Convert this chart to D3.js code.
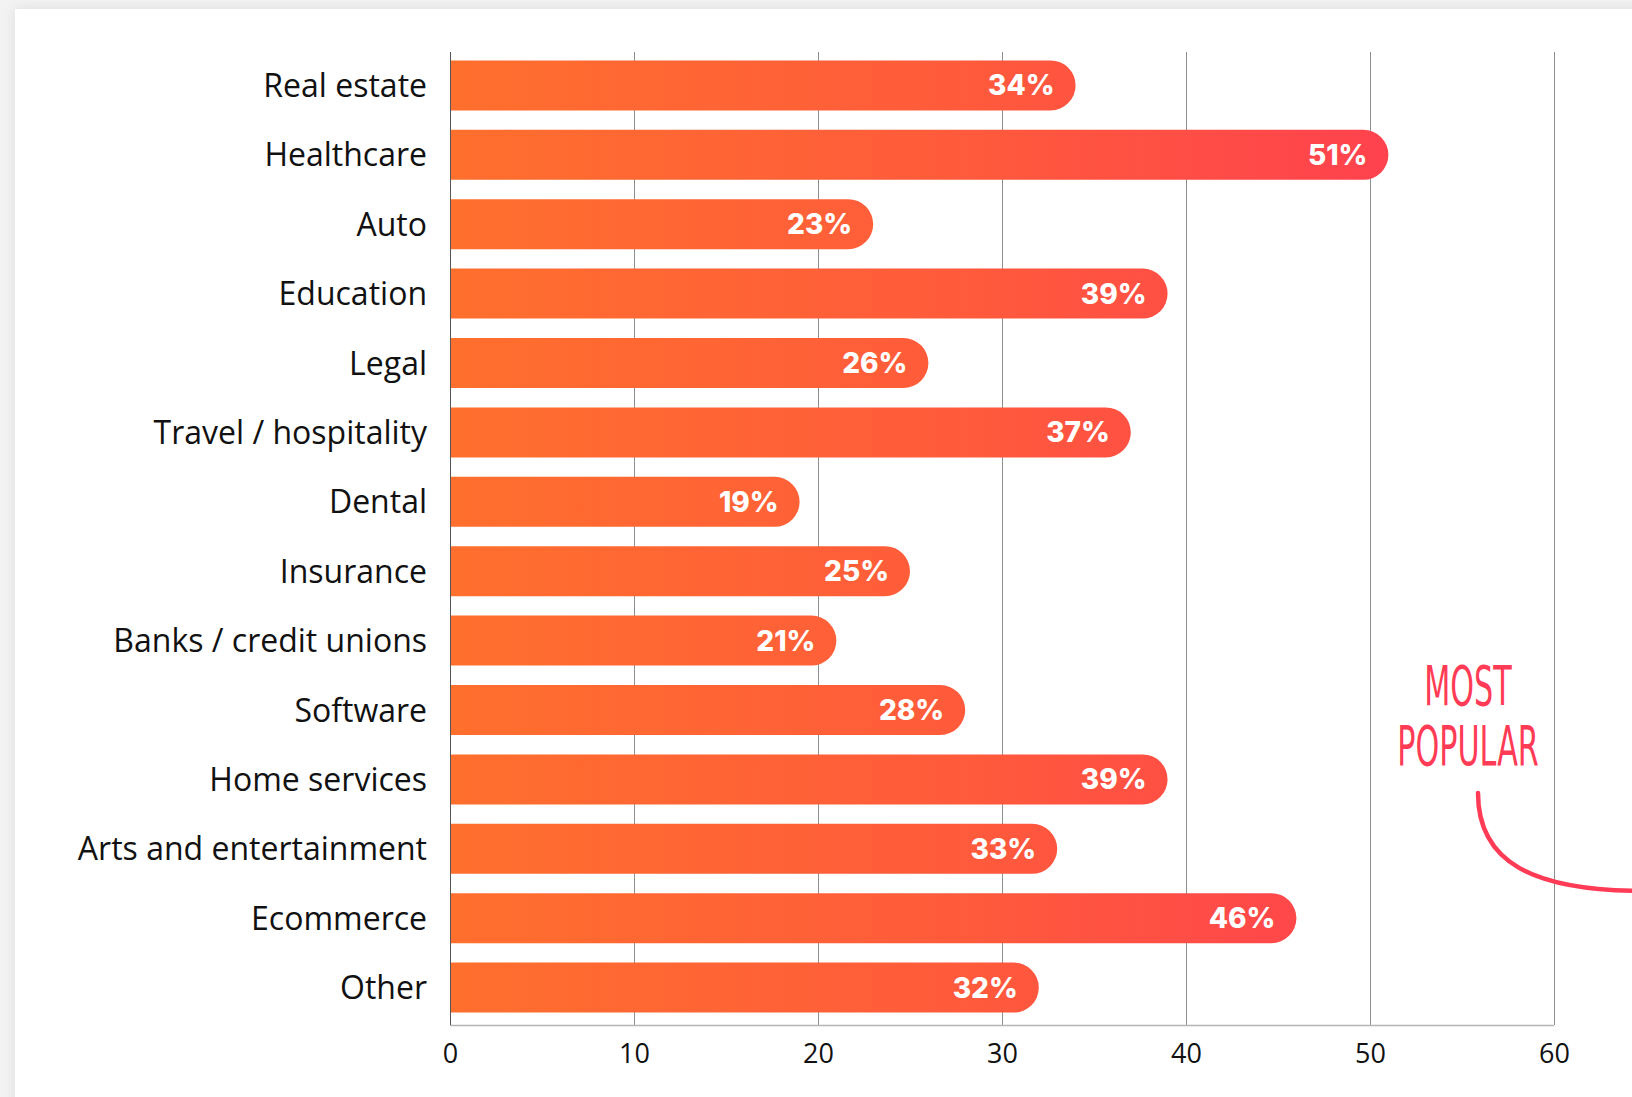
<!DOCTYPE html>
<html>
<head>
<meta charset="utf-8">
<script src="https://cdn.jsdelivr.net/npm/d3@7"></script>
<style>
  html, body { margin: 0; padding: 0; background: #f3f3f3; overflow: hidden; }
  svg { display: block; }
</style>
</head>
<body>
<svg id="chart" width="1632" height="1097"></svg>
<script>
// Share of respondents by industry (%)
const categories = [
  "Real estate", "Healthcare", "Auto", "Education", "Legal",
  "Travel / hospitality", "Dental", "Insurance", "Banks / credit unions",
  "Software", "Home services", "Arts and entertainment", "Ecommerce", "Other"
];
const values = [34, 51, 23, 39, 26, 37, 19, 25, 21, 28, 39, 33, 46, 32];
const tickValues = [0, 10, 20, 30, 40, 50, 60];
const noteLines = ["MOST", "POPULAR"];

const svg = d3.select("#chart");
const W = 1632, H = 1097;

const defs = svg.append("defs");
const shadow = defs.append("filter").attr("id", "cardShadow")
  .attr("x", "-5%").attr("y", "-5%").attr("width", "110%").attr("height", "110%");
shadow.append("feDropShadow").attr("dx", 0).attr("dy", 0)
  .attr("stdDeviation", 7).attr("flood-color", "#000").attr("flood-opacity", 0.09);

// white card
svg.append("rect")
  .attr("x", 15).attr("y", 9).attr("width", W + 40).attr("height", H + 40)
  .attr("fill", "#ffffff").attr("filter", "url(#cardShadow)");

const plot = { left: 450, right: 1554, top: 52, bottom: 1025 };

const x = d3.scaleLinear().domain([0, 60]).range([plot.left, plot.right]);
const y = d3.scaleBand().domain(categories)
  .range([plot.top - 2, plot.bottom - 2]).paddingInner(0.28).paddingOuter(0.15);

const grad = defs.append("linearGradient").attr("id", "barGrad")
  .attr("gradientUnits", "userSpaceOnUse")
  .attr("x1", x(0)).attr("x2", x(52)).attr("y1", 0).attr("y2", 0);
grad.append("stop").attr("offset", "0%").attr("stop-color", "#ff6f2d");
grad.append("stop").attr("offset", "55%").attr("stop-color", "#ff5a3c");
grad.append("stop").attr("offset", "100%").attr("stop-color", "#ff414f");

// vertical grid
svg.append("g").selectAll("line")
  .data(tickValues.filter(d => d > 0))
  .join("line")
  .attr("x1", d => Math.round(x(d)) + 0.5).attr("x2", d => Math.round(x(d)) + 0.5)
  .attr("y1", plot.top).attr("y2", plot.bottom)
  .attr("stroke", "#8f8f8f").attr("stroke-width", 1);

// bottom axis baseline
svg.append("line")
  .attr("x1", plot.left).attr("x2", plot.right)
  .attr("y1", plot.bottom + 0.5).attr("y2", plot.bottom + 0.5)
  .attr("stroke", "#b5b5b5").attr("stroke-width", 1.5);

// x axis tick labels
const xAxis = d3.axisBottom(x).tickValues(tickValues).tickSize(0).tickPadding(0);
const gx = svg.append("g").attr("transform", `translate(0,${plot.bottom})`).call(xAxis);
gx.select(".domain").remove();
gx.selectAll("text")
  .attr("y", 29).attr("dy", "0.35em")
  .attr("font-family", "'Open Sans', sans-serif").attr("font-size", 27)
  .attr("fill", "#111");

// bars with a rounded right end
function barPath(v, cat) {
  const x0 = x(0), x1 = x(v), y0 = y(cat), h = y.bandwidth(), r = h / 2;
  return `M${x0},${y0}H${x1 - r}A${r},${r} 0 0 1 ${x1 - r},${y0 + h}H${x0}Z`;
}
const rows = categories.map((c, i) => ({ cat: c, v: values[i] }));

svg.append("g").selectAll("path")
  .data(rows).join("path")
  .attr("d", d => barPath(d.v, d.cat))
  .attr("fill", "url(#barGrad)");

// axis line at zero
svg.append("line")
  .attr("x1", Math.round(x(0)) + 0.5).attr("x2", Math.round(x(0)) + 0.5)
  .attr("y1", plot.top).attr("y2", plot.bottom)
  .attr("stroke", "#555").attr("stroke-width", 1);

// value labels
svg.append("g").selectAll("text")
  .data(rows).join("text")
  .attr("x", d => x(d.v) - 21)
  .attr("y", d => y(d.cat) + y.bandwidth() / 2)
  .attr("dy", "0.36em")
  .attr("text-anchor", "end")
  .attr("font-family", "Inter, Lato, sans-serif").attr("font-weight", 800)
  .attr("font-size", 28).attr("fill", "#fff")
  .text(d => d.v + "%");

// category labels
svg.append("g").selectAll("text")
  .data(rows).join("text")
  .attr("x", plot.left - 23)
  .attr("y", d => y(d.cat) + y.bandwidth() / 2)
  .attr("dy", "0.36em")
  .attr("text-anchor", "end")
  .attr("font-family", "'Open Sans', sans-serif").attr("font-size", 32)
  .attr("fill", "#111")
  .text(d => d.cat);

// handwritten note, horizontally condensed
const noteColor = "#ff3b55";
const note = svg.append("g").attr("transform", "translate(1468,0) scale(0.6,1)");
note.selectAll("text").data(noteLines).join("text")
  .attr("x", 0)
  .attr("y", (d, i) => 705 + i * 60)
  .attr("text-anchor", "middle")
  .attr("font-family", "'Liberation Sans Narrow', 'DejaVu Sans Condensed', sans-serif")
  .attr("font-size", 56)
  .attr("fill", noteColor)
  .text(d => d);

svg.append("path")
  .attr("d", "M1478,793 C1478,862 1532,891 1645,891")
  .attr("fill", "none").attr("stroke", noteColor)
  .attr("stroke-width", 4.5).attr("stroke-linecap", "round");
</script>
</body>
</html>
